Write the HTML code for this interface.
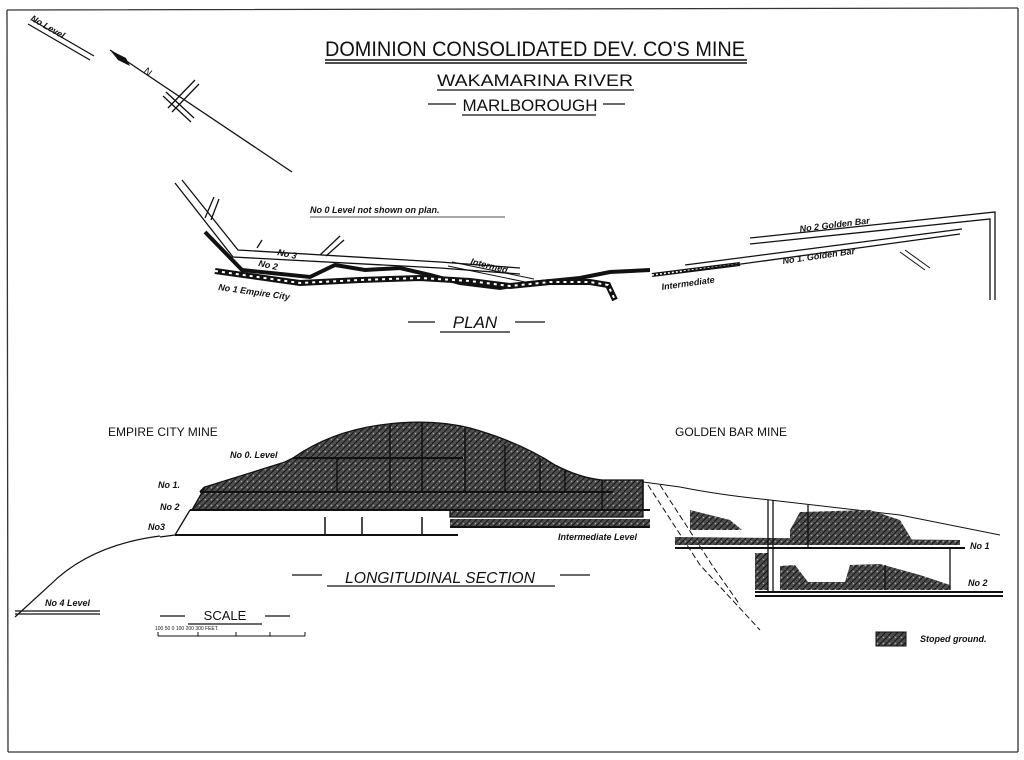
<!DOCTYPE html>
<html><head><meta charset="utf-8"><style>
html,body{margin:0;padding:0;background:#fff;}
svg{display:block}
text{font-family:"Liberation Sans",sans-serif;fill:#111}
.t{font-family:"Liberation Sans Narrow","Liberation Sans",sans-serif;}
.i{font-style:italic;font-size:9px;font-weight:bold}
</style></head><body>
<svg width="1024" height="760" viewBox="0 0 1024 760" xmlns="http://www.w3.org/2000/svg">
<defs>
<pattern id="st" width="6" height="6" patternUnits="userSpaceOnUse">
<rect width="6" height="6" fill="#4e4e4e"/>
<path d="M0 6 L6 0" stroke="#1a1a1a" stroke-width="1.2"/>
<circle cx="1.5" cy="1.5" r="0.8" fill="#aaa"/>
</pattern>
</defs>
<rect x="0" y="0" width="1024" height="760" fill="#fff"/>
<path d="M7 10 L1018 8 M7 10 L8 752 M1018 8 L1018 752 M8 752 L1018 752" stroke="#333" stroke-width="1.3" fill="none"/>

<text x="535" y="56" text-anchor="middle" font-size="21" class="t" textLength="420" lengthAdjust="spacingAndGlyphs">DOMINION CONSOLIDATED DEV. CO'S MINE</text>
<path d="M325 60 L747 60 M325 63 L747 63" stroke="#111" stroke-width="1.6"/>
<text x="535" y="86" text-anchor="middle" font-size="17" class="t" textLength="196" lengthAdjust="spacingAndGlyphs">WAKAMARINA RIVER</text>
<path d="M437 90 L634 90" stroke="#111" stroke-width="1.3"/>
<text x="530" y="111" text-anchor="middle" font-size="17" class="t" textLength="135" lengthAdjust="spacingAndGlyphs">MARLBOROUGH</text>
<path d="M428 104 L456 104 M603 104 L625 104 M462 115 L596 115" stroke="#111" stroke-width="1.3"/>

<path d="M28 24 L90 60 M32 20 L94 56" stroke="#111" stroke-width="1.3"/>
<text x="30" y="20" class="i" transform="rotate(30 30 20)">No Level</text>
<path d="M110 50 L292 172" stroke="#111" stroke-width="1.3"/>
<path d="M110 50 L126 58 L130 66 L118 60 Z" fill="#111"/>
<text x="143" y="72" font-size="10" transform="rotate(40 143 72)">N</text>
<path d="M168 108 L195 80 M172 112 L199 84 M166 92 L194 118 M163 96 L191 122" stroke="#111" stroke-width="1.3"/>

<path d="M175 183 L233 257 L440 268 L520 274 M182 180 L238 250 L440 262 L520 268" stroke="#111" stroke-width="1.3" fill="none"/>
<path d="M205 218 L214 197 M211 220 L219 199 M257 248 L262 240 M320 255 L340 236 M326 256 L344 240" stroke="#111" stroke-width="1.3"/>
<text x="277" y="255" class="i" transform="rotate(12 277 255)">No 3</text>
<path d="M205 232 L242 270 L310 277 L335 265 L365 270 L400 268 L430 275 L460 283 L500 288 L530 283 L580 278 L610 272 L650 270" stroke="#111" stroke-width="4" fill="none"/>
<text x="258" y="266" class="i" transform="rotate(12 258 266)">No 2</text>
<path d="M215 271 L300 283 L360 280 L420 278 L470 281 L510 286 L550 282 L590 282 L608 285 L615 300" stroke="#111" stroke-width="6" fill="none"/>
<path d="M215 271 L300 283 L360 280 L420 278 L470 281 L510 286 L550 282 L590 282 L608 285 L615 300" stroke="#fff" stroke-width="2" stroke-dasharray="3 4" fill="none"/>
<text x="218" y="290" class="i" transform="rotate(8 218 290)">No 1 Empire City</text>
<path d="M448 266 L530 283 M452 262 L534 279" stroke="#111" stroke-width="1" />
<text x="470" y="264" class="i" transform="rotate(14 470 264)">Intermed.</text>
<path d="M652 275 L740 264" stroke="#111" stroke-width="4"/>
<path d="M652 275 L740 264" stroke="#fff" stroke-width="1.5" stroke-dasharray="2 2"/>
<text x="662" y="290" class="i" transform="rotate(-8 662 290)">Intermediate</text>
<path d="M683 272 L960 234 M685 265 L962 229" stroke="#111" stroke-width="1.3"/>
<text x="783" y="264" class="i" transform="rotate(-8 783 264)">No 1. Golden Bar</text>
<path d="M905 250 L930 268 M900 252 L925 270" stroke="#111" stroke-width="1"/>
<path d="M750 238 L995 212 L995 300 M750 244 L990 219 L990 300" stroke="#111" stroke-width="1.3" fill="none"/>
<text x="800" y="232" class="i" transform="rotate(-7 800 232)">No 2 Golden Bar</text>
<text x="310" y="213" class="i">No 0 Level not shown on plan.</text>
<path d="M310 217 L505 217" stroke="#111" stroke-width="0.8"/>
<text x="475" y="328" text-anchor="middle" font-size="17" font-style="italic" class="t">PLAN</text>
<path d="M408 322 L435 322 M515 322 L545 322 M440 332 L510 332" stroke="#111" stroke-width="1.3"/>

<text x="108" y="436" font-size="12" class="t">EMPIRE CITY MINE</text>
<text x="675" y="436" font-size="12" class="t">GOLDEN BAR MINE</text>
<path d="M205 487 L285 462 L293 458 Q330 432 380 425 Q430 418 470 428 Q520 442 555 465 Q580 478 602 480 L643 480 L643 517 L450 517 L450 510 L192 510 Z" fill="url(#st)" stroke="#111" stroke-width="1.3"/>
<path d="M450 519 L650 519 L650 527 L450 527 Z" fill="url(#st)"/>
<path d="M293 458 L463 458 M200 492 L613 492 M190 510 L650 510 M175 535 L458 535 M450 527 L650 527 M205 487 L200 492" stroke="#111" stroke-width="2" fill="none"/>
<path d="M190 510 L178 530 L175 535 M175 535 L160 537" stroke="#111" stroke-width="1.3"/>
<path d="M325 517 L325 535 M362 517 L362 535 M422 517 L422 535 M337 458 L337 492 M390 425 L390 492 M422 423 L422 492 M465 428 L465 492 M505 445 L505 492 M540 458 L540 492 M565 470 L565 492 M602 480 L602 510 M643 480 L643 510" stroke="#111" stroke-width="1.5"/>
<text x="158" y="488" class="i">No 1.</text>
<text x="160" y="510" class="i">No 2</text>
<text x="148" y="530" class="i">No3</text>
<text x="230" y="458" class="i">No 0. Level</text>
<text x="558" y="540" class="i">Intermediate Level</text>
<path d="M160 536 Q90 545 50 585 L15 617" stroke="#111" stroke-width="1.2" fill="none"/>
<path d="M15 611 L100 611 M15 614 L100 614" stroke="#111" stroke-width="1.2"/>
<text x="45" y="606" class="i">No 4 Level</text>

<path d="M643 482 L680 487 Q720 495 770 500 L900 515 L1000 535" stroke="#111" stroke-width="1" fill="none"/>
<path d="M648 485 L700 565 L760 630" stroke="#111" stroke-width="1" stroke-dasharray="6 3" fill="none"/>
<path d="M660 485 L712 565 L740 605" stroke="#111" stroke-width="1" stroke-dasharray="6 3" fill="none"/>
<path d="M690 510 L730 520 L742 530 L690 530 Z" fill="url(#st)"/>
<path d="M675 537 L960 540 L960 545 L675 545 Z" fill="url(#st)"/>
<path d="M790 530 L800 512 L870 510 L900 520 L912 540 L790 540 Z" fill="url(#st)"/>
<path d="M755 553 L768 553 L768 590 L755 590 Z" fill="url(#st)"/>
<path d="M780 590 L780 566 L795 565 L808 582 L845 582 L850 565 L880 564 L920 575 L950 585 L950 590 Z" fill="url(#st)"/>
<path d="M675 548 L965 548 M755 592 L1003 592 M755 596 L1003 596" stroke="#111" stroke-width="2"/>
<path d="M768 500 L768 592 M773 500 L773 592 M808 505 L808 548 M885 565 L885 590 M950 548 L950 590" stroke="#111" stroke-width="1.3"/>
<text x="970" y="549" class="i">No 1</text>
<text x="968" y="586" class="i">No 2</text>

<text x="440" y="583" text-anchor="middle" font-size="16" font-style="italic" class="t" textLength="190" lengthAdjust="spacingAndGlyphs">LONGITUDINAL SECTION</text>
<path d="M292 575 L322 575 M560 575 L590 575 M327 586 L555 586" stroke="#111" stroke-width="1.3"/>

<text x="225" y="620" text-anchor="middle" font-size="13" class="t">SCALE</text>
<path d="M160 616 L185 616 M265 616 L290 616 M188 624 L262 624" stroke="#111" stroke-width="1.2"/>
<text x="155" y="630" font-size="5">100 50 0   100   200   300 FEET.</text>
<path d="M158 636 L305 636 M158 632 L158 636 M198 632 L198 636 M236 632 L236 636 M270 632 L270 636 M305 632 L305 636" stroke="#111" stroke-width="1"/>

<rect x="876" y="632" width="30" height="14" fill="url(#st)" stroke="#111"/>
<text x="920" y="642" class="i">Stoped ground.</text>
</svg>
</body></html>
